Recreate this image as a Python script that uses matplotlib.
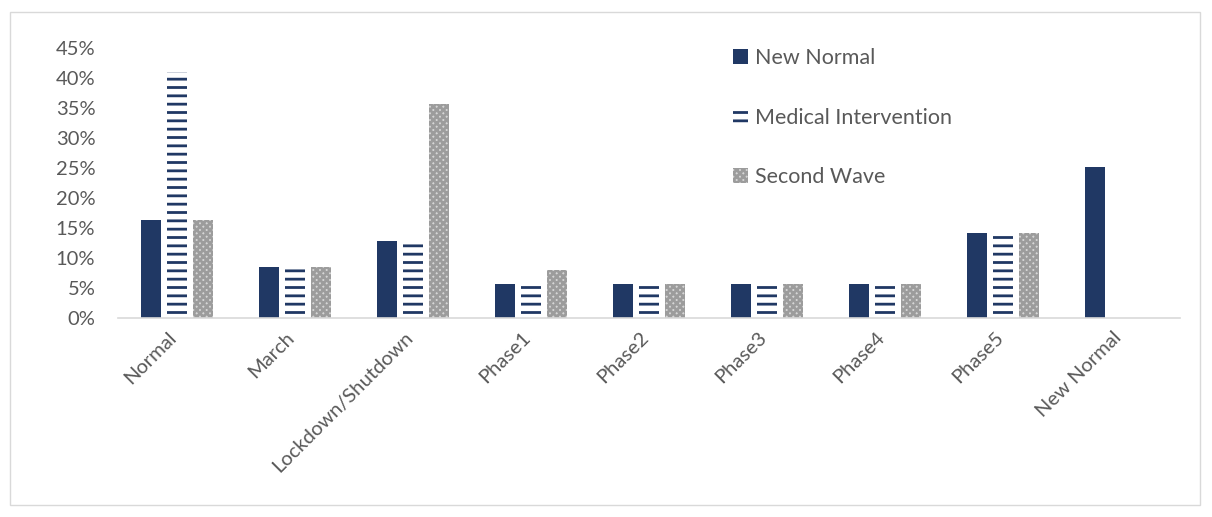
import numpy as np
import matplotlib
matplotlib.use('Agg')
import matplotlib.pyplot as plt
from matplotlib.patches import Rectangle
from matplotlib.ticker import PercentFormatter
from matplotlib.transforms import ScaledTranslation

# Values (fractions)
categories = ['Normal', 'March', 'Lockdown/Shutdown', 'Phase1', 'Phase2',
              'Phase3', 'Phase4', 'Phase5', 'New Normal']
new_normal = [0.163, 0.085, 0.128, 0.057, 0.057, 0.057, 0.057, 0.142, 0.252]
medical = [0.41, 0.082, 0.125, 0.055, 0.055, 0.055, 0.055, 0.140, 0.0]
second_wave = [0.163, 0.085, 0.357, 0.080, 0.057, 0.057, 0.057, 0.142, 0.0]

navy = '#203864'
text_grey = '#595959'

plt.rcParams['font.family'] = ['Lato', 'DejaVu Sans']
plt.rcParams['hatch.linewidth'] = 2.0

fig = plt.figure(figsize=(12.12, 5.17), dpi=100)
ax = fig.add_axes([0.097, 0.385, 0.877, 0.522])

x = np.arange(len(categories))
w = 0.17
off = 0.22

ax.bar(x - off, new_normal, w, color=navy, label='New Normal')
ax.bar(x, medical, w, facecolor='white', edgecolor=navy, hatch='--', linewidth=0,
       label='Medical Intervention')
ax.bar(x + off, second_wave, w, facecolor='#d6d6d6', edgecolor='#9c9c9c', hatch='xxxxx',
       linewidth=0, label='Second Wave')

ax.set_xlim(-0.5, len(categories) - 0.5)
ax.set_ylim(0, 0.45)
ax.set_yticks(np.arange(0, 0.46, 0.05))
ax.yaxis.set_major_formatter(PercentFormatter(1.0, decimals=0))
ax.set_xticks(x)
ax.set_xticklabels(categories, rotation=45, ha='right', va='center', rotation_mode='anchor')
ax.tick_params(axis='both', length=0, labelsize=14.5, colors=text_grey)
ax.tick_params(axis='y', pad=16)
ax.tick_params(axis='x', pad=12)
for lbl in ax.get_xticklabels():
    lbl.set_transform(lbl.get_transform() + ScaledTranslation(-0.03, 0, fig.dpi_scale_trans))

for s in ['top', 'right', 'left']:
    ax.spines[s].set_visible(False)
ax.spines['bottom'].set_color('#d9d9d9')
ax.spines['bottom'].set_linewidth(1.2)

leg = fig.legend(loc='upper left', bbox_to_anchor=(0.589, 0.945), frameon=False,
                 fontsize=15.5, labelspacing=1.85, handlelength=0.7, handleheight=0.7,
                 handletextpad=0.3)
for t in leg.get_texts():
    t.set_color(text_grey)

# light grey frame around the whole chart
fig.add_artist(Rectangle((10 / 1212, 12 / 517), 1190 / 1212, 493 / 517,
                         transform=fig.transFigure, fill=False,
                         edgecolor='#d9d9d9', linewidth=1))

fig.savefig('out.png', dpi=100)
